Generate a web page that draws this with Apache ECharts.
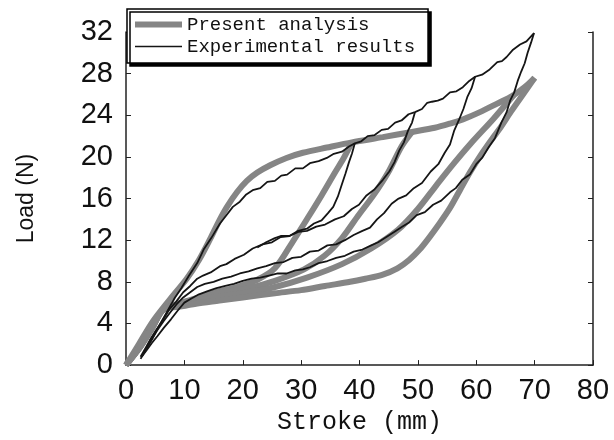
<!DOCTYPE html>
<html><head><meta charset="utf-8">
<script src="https://cdn.jsdelivr.net/npm/echarts@6/dist/echarts.min.js"></script>
<style>html,body{margin:0;padding:0;background:#fff}#c{width:614px;height:440px}</style>
</head><body><div id="c"></div>
<script>
const xTicks = [0,10,20,30,40,50,60,70,80];
const yTicks = [0,4,8,12,16,20,24,28,32];
const legendNames = ['Present analysis','Experimental results'];

// Present analysis (thick gray curves)
const anaEnvelope = [[0,0],[2.3,2.1],[4.6,4.2],[7.5,6.3],[10.4,8.3],[12.5,10.1],[14.4,12.1],[16,13.9],[17.3,15.2],[19,16.6],[20.7,17.7],[22.5,18.5],[24.7,19.2],[27.5,19.9],[30.3,20.4],[34.4,20.9],[38.7,21.4],[44,21.9],[49,22.4],[52.9,22.8],[55.5,23.2],[57.7,23.6],[61,24.4],[63.5,25.1],[66.3,25.9],[68.3,26.7],[70,27.6]];
const ana40 = [[38.7,21.4],[37.2,19.8],[35.8,18.5],[33.5,16.3],[31.2,14.2],[28.5,11.8],[25.5,9.3],[22.5,8.2],[19,7.5],[16,7.1],[13,6.6],[10,6.1],[8,5.7],[6.3,5.3],[4.5,3.6],[2.5,1.8],[0,0]];
const ana50 = [[49,22.4],[47.2,21],[44.9,18.5],[42.5,16.4],[39.7,14.3],[37,12.2],[34,10.5],[30.5,9.2],[25.5,8.1],[21,7.4],[16,6.9],[12,6.3],[9,5.9],[6.3,5.3],[4.5,3.6],[2.5,1.8],[0,0]];
const ana66 = [[66.5,26],[63,23.7],[59.4,21.5],[56.2,19.4],[53.2,17.3],[50,15.0],[46.6,13.0],[42,11.2],[37,9.7],[31,8.4],[25.5,7.5],[20,6.9],[16,6.6],[12,6.2],[9,5.8],[6.3,5.3],[4.5,3.6],[2.5,1.8],[0,0]];
const ana70 = [[70,27.6],[68,26],[66,24.4],[64,22.7],[62.8,21.8],[60.8,20.2],[58.9,18.5],[57.2,16.8],[55.5,15.1],[53.7,13.6],[52,12.3],[50.3,11.1],[48.5,10.1],[46.5,9.3],[44,8.7],[41,8.3],[38.4,8.0],[34.1,7.6],[30,7.2],[25.5,6.9],[20,6.5],[16,6.2],[12,5.9],[9,5.6],[6.3,5.3],[4.5,3.6],[2.5,1.8],[0,0]];

// Experimental results (thin black noisy curves)
const expUp = [[2.5,0.6],[3.5,1.6],[4.5,2.5],[6,4.1],[7.2,5.3],[8.4,6.5],[9.5,7.4],[10.8,8.6],[12.2,9.8],[13.3,11.1],[14.6,12.2],[16.1,13.6],[17.2,14.4],[18.3,15.2],[19.5,15.7],[20.6,16.4],[21.7,16.8],[23,17.0],[24.2,17.6],[25.5,17.7],[26.6,18.2],[27.6,18.3],[29,18.9],[30.3,18.9],[31.5,19.4],[33,19.6],[34.4,19.9],[35.6,20.3],[37,20.5],[38.2,21.0],[39.2,21.3],[40.3,21.5],[41.4,22.0],[42.6,22.1],[43.8,22.6],[44.9,22.7],[46.1,23.3],[47.2,23.5],[48.4,24.1],[49.5,24.3],[50.7,24.6],[51.6,25.2],[52.4,25.3],[53.4,25.4],[54.3,25.6],[55.5,26.2],[56.6,26.3],[57.7,26.7],[58.8,27.3],[59.8,27.7],[61,27.9],[62.3,28.4],[63.6,29.1],[64.4,29.2],[65.2,29.6],[66.3,30.3],[67.5,30.8],[68.6,31.1],[69.9,31.9]];
const expD40 = [[39.2,21.3],[38.7,20.3],[38.2,19.5],[37.6,18.4],[37,17.4],[36.3,16.2],[35.5,15.2],[34.6,14.6],[33.5,13.9],[32.2,13.6],[31,13.1],[29.5,12.9],[28,12.4],[26.5,12.3],[25,11.8],[23.4,11.6],[21.7,11.2],[20.2,10.6],[18.6,10.2],[17.2,9.7],[16.1,9.5],[14.5,8.9],[13.2,8.6],[12.2,8.3],[11,7.6],[9.8,7.0],[8.6,6.1],[7.5,5.4],[6.4,4.4],[5.3,3.5],[4.3,2.6],[3.5,1.8],[2.5,0.8]];
const expD50 = [[49.5,24.3],[49,23.3],[48.3,22.5],[47.6,21.4],[46.8,20.6],[46,19.5],[45.1,18.6],[44,17.8],[42.6,16.9],[41.2,16.3],[39.9,15.4],[38.7,15.0],[37.3,14.3],[35.8,14.0],[34.1,13.5],[32.6,13.3],[31,12.9],[29.5,12.8],[28,12.4],[26.5,12.4],[25.5,12.2],[24,11.8],[22.5,11.3]];
const expD60 = [[59.8,27.7],[59.2,26.6],[58.5,25.8],[57.8,24.6],[57,23.5],[56.2,22.5],[55.5,21.2],[54.6,20.4],[53.5,19.3],[52.2,18.6],[50.7,17.5],[49.3,17.0],[48,16.3],[46.7,16.0],[45.5,15.5],[44.2,14.6],[43,14.0],[41.8,13.2],[40.5,12.9],[39,12.5],[37.5,12.0],[36,11.6],[34.5,11.5],[33,11.0],[31.5,10.9],[30,10.4],[28.5,10.3],[27,9.9],[25.5,9.8],[24,9.5],[22.5,9.3],[21,9.0],[19.5,8.8],[18,8.5],[16.5,8.3],[15,8.0],[13.5,7.8],[12.2,7.5],[11,7.0],[9.8,6.5],[8.6,5.8],[7.5,5.0],[6.4,4.2],[5.3,3.3],[4.3,2.4],[3.2,1.3],[2.6,0.8]];
const expD70 = [[69.9,31.9],[69.4,31.0],[68.8,30.0],[68.3,29.0],[67.7,28.2],[67.1,27.3],[66.5,26.2],[65.8,25.4],[65.2,24.3],[64.3,23.3],[63.2,21.8],[62.2,21.0],[61,19.9],[60,19.3],[58.9,18.3],[57.6,17.8],[56.5,17.0],[55.5,16.6],[54,15.8],[52.6,15.4],[51.2,14.7],[49.8,14.4],[48.5,13.7],[47.3,13.3],[46,12.8],[44.6,12.3],[43.2,11.8],[42,11.5],[40.5,11.1],[39,10.9],[37.5,10.5],[36,10.3],[34.5,10.0],[33,9.8],[31.5,9.4],[30.3,9.2],[29,9.1],[27.5,8.8],[26,8.8],[24.5,8.6],[23,8.4],[21.5,8.3],[20,8.1],[18.5,7.8],[17,7.6],[15.5,7.4],[14,7.1],[12.5,6.8],[11.2,6.4],[10,6.0],[8.8,5.2],[7.7,4.4],[6.5,3.6],[5.4,2.8],[4.4,2.1],[3.5,1.4],[2.7,0.8]];

const anaCurves = [anaEnvelope, ana40, ana50, ana66, ana70];
const expCurves = [expUp, expD40, expD50, expD60, expD70];

const labelFont = "'Liberation Sans',Arial,sans-serif";
const mono = "'Liberation Mono','DejaVu Sans Mono',monospace";
const grayC = '#858585', blackC = '#151515';

const series = [];
anaCurves.forEach(d => series.push({
  name: legendNames[0], type: 'line', data: d, symbol: 'none', smooth: 0.3,
  lineStyle: {color: grayC, width: 6}, itemStyle: {color: grayC}, z: 2, silent: true
}));
expCurves.forEach(d => series.push({
  name: legendNames[1], type: 'line', data: d, symbol: 'none',
  lineStyle: {color: blackC, width: 1.8}, itemStyle: {color: blackC}, z: 3, silent: true
}));

const chart = echarts.init(document.getElementById('c'), null, {renderer: 'canvas'});
chart.setOption({
  animation: false,
  backgroundColor: '#fff',
  grid: {left: 126, right: 21, top: 32, bottom: 69},
  legend: {
    data: [
      {name: legendNames[0], icon: 'rect', itemStyle: {color: grayC}},
      {name: legendNames[1], icon: 'path://M0,0L47,0L47,0L0,0Z M0,2.2L47,2.2L47,3.8L0,3.8Z M0,6L47,6L47,6L0,6Z', itemStyle: {color: blackC}}
    ],
    orient: 'vertical', left: 127, top: 9,
    itemWidth: 47, itemHeight: 6, itemGap: 1,
    padding: [5, 13, 6, 8],
    backgroundColor: '#fff', borderColor: '#000', borderWidth: 1.5,
    shadowColor: '#000', shadowBlur: 0, shadowOffsetX: 3, shadowOffsetY: 3,
    textStyle: {fontFamily: mono, fontSize: 19, color: '#111', lineHeight: 21},
    selectedMode: false
  },
  xAxis: {
    type: 'value', min: 0, max: 80, interval: 10,
    name: 'Stroke (mm)', nameLocation: 'middle', nameGap: 37,
    nameTextStyle: {fontFamily: mono, fontSize: 25, color: '#111'},
    axisLine: {lineStyle: {color: '#222', width: 1.5}},
    axisTick: {inside: true, length: 5, lineStyle: {color: '#222'}},
    axisLabel: {fontFamily: labelFont, fontSize: 29, color: '#111', margin: 11,
      formatter: v => xTicks.includes(v) ? String(v) : ''},
    splitLine: {show: false}
  },
  yAxis: [{
    type: 'value', min: 0, max: 32, interval: 4,
    name: 'Load (N)', nameLocation: 'middle', nameGap: 88, nameRotate: 90,
    nameTextStyle: {fontFamily: labelFont, fontSize: 23, color: '#111'},
    axisLine: {show: true, lineStyle: {color: '#222', width: 1.5}},
    axisTick: {inside: true, length: 5, lineStyle: {color: '#222'}},
    axisLabel: {fontFamily: labelFont, fontSize: 29, color: '#111', margin: 13,
      formatter: v => yTicks.includes(v) ? String(v) : ''},
    splitLine: {show: false}
  }, {
    type: 'value', min: 0, max: 32, interval: 4, position: 'right',
    axisLine: {show: true, lineStyle: {color: '#222', width: 1.5}},
    axisTick: {inside: true, length: 5, lineStyle: {color: '#222'}},
    axisLabel: {show: false}, splitLine: {show: false}
  }],
  series: series
});
</script>
</body></html>
